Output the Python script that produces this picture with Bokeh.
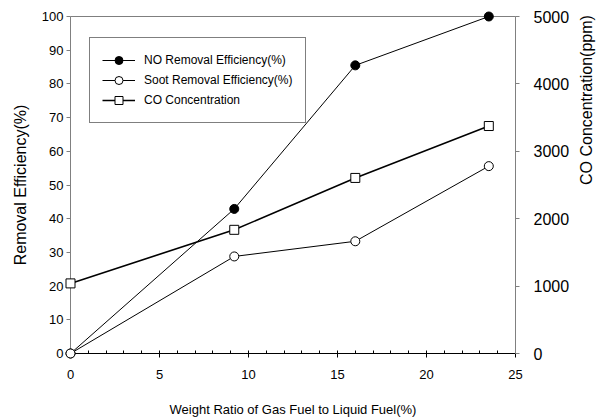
import math
from bokeh.plotting import figure
from bokeh.models import Range1d, LinearAxis, SingleIntervalTicker, Span, Legend, LegendItem
from bokeh.embed import file_html
from bokeh.resources import INLINE

# data
x_ratio = [0, 9.2, 16.0, 23.5]
no_eff = [0, 42.9, 85.5, 100]
soot_eff = [0, 28.8, 33.3, 55.6]
co_ppm = [1040, 1835, 2605, 3375]

FONT = "Liberation Sans"

p = figure(width=606, height=419, x_range=Range1d(0, 25), y_range=Range1d(0, 100),
           output_backend="svg", toolbar_location=None,
           min_border_left=70, min_border_right=88, min_border_top=16, min_border_bottom=66)
p.extra_y_ranges = {"co": Range1d(0, 5000)}
p.outline_line_color = None
p.xgrid.visible = False
p.ygrid.visible = False
p.background_fill_color = "white"

# x axis
xa = p.xaxis[0]
xa.ticker = SingleIntervalTicker(interval=5, num_minor_ticks=5)
xa.axis_label = "Weight Ratio of Gas Fuel to Liquid Fuel(%)"
xa.axis_label_text_font = FONT
xa.axis_label_text_font_size = "13px"
xa.axis_label_text_font_style = "normal"
xa.axis_label_text_color = "black"
xa.axis_label_standoff = 20
xa.major_label_text_font = FONT
xa.major_label_text_font_size = "13px"
xa.major_label_text_color = "black"
xa.major_label_standoff = 12
xa.axis_line_color = "black"
xa.major_tick_line_color = "black"
xa.minor_tick_line_color = "black"
xa.major_tick_in = 0
xa.major_tick_out = 4
xa.minor_tick_in = 3
xa.minor_tick_out = 0

# left axis
ya = p.yaxis[0]
ya.ticker = SingleIntervalTicker(interval=10, num_minor_ticks=0)
ya.axis_label = "Removal Efficiency(%)"
ya.axis_label_text_font = FONT
ya.axis_label_text_font_size = "16px"
ya.axis_label_text_font_style = "normal"
ya.axis_label_text_color = "black"
ya.axis_label_standoff = 10
ya.major_label_text_font = FONT
ya.major_label_text_font_size = "13px"
ya.major_label_text_color = "black"
ya.major_label_standoff = 3
ya.axis_line_color = "#808080"
ya.major_tick_line_color = "#808080"
ya.major_tick_in = 0
ya.major_tick_out = 4
ya.minor_tick_line_color = None

# right axis
ra = LinearAxis(y_range_name="co", ticker=SingleIntervalTicker(interval=1000, num_minor_ticks=0))
ra.axis_label = "CO Concentration(ppm)"
ra.axis_label_text_font = FONT
ra.axis_label_text_font_size = "16px"
ra.axis_label_text_font_style = "normal"
ra.axis_label_text_color = "black"
ra.axis_label_standoff = 14
ra.axis_label_text_align = "center"
ra.axis_label_text_baseline = "middle"
try:
    ra.axis_label_orientation = math.pi / 2
except Exception:
    pass
ra.major_label_text_font = FONT
ra.major_label_text_font_size = "16px"
ra.major_label_text_color = "black"
ra.major_label_standoff = 14
ra.axis_line_color = "#808080"
ra.major_tick_line_color = "#808080"
ra.major_tick_in = 0
ra.major_tick_out = 4
ra.minor_tick_line_color = None
p.add_layout(ra, "right")

# top border line
p.add_layout(Span(location=100, dimension="width", line_color="black", line_width=1))

# series
l_no = p.line(x_ratio, no_eff, line_color="black", line_width=1, level="overlay")
m_no = p.scatter(x_ratio, no_eff, marker="circle", size=9, fill_color="black",
                 line_color="black", level="overlay")
l_soot = p.line(x_ratio, soot_eff, line_color="black", line_width=1, level="overlay")
m_soot = p.scatter(x_ratio, soot_eff, marker="circle", size=9, fill_color="white",
                   line_color="black", line_width=1, level="overlay")
l_co = p.line(x_ratio, co_ppm, y_range_name="co", line_color="black", line_width=1.6, level="overlay")
m_co = p.scatter(x_ratio, co_ppm, y_range_name="co", marker="square", size=9, fill_color="white",
                 line_color="black", line_width=1, level="overlay")

legend = Legend(items=[
    LegendItem(label="NO Removal Efficiency(%)", renderers=[l_no, m_no]),
    LegendItem(label="Soot Removal Efficiency(%)", renderers=[l_soot, m_soot]),
    LegendItem(label="CO Concentration", renderers=[l_co, m_co]),
], location=(19, 230))
legend.margin = 0
legend.padding = 12
legend.spacing = 0
legend.glyph_width = 33
legend.glyph_height = 20
legend.label_height = 20
legend.label_standoff = 9
legend.label_text_font = FONT
legend.label_text_font_size = "12px"
legend.label_text_color = "black"
legend.border_line_color = "black"
legend.border_line_width = 1
legend.background_fill_color = "white"
legend.background_fill_alpha = 1
p.add_layout(legend)

open("out.html", "w").write(file_html(p, INLINE))
